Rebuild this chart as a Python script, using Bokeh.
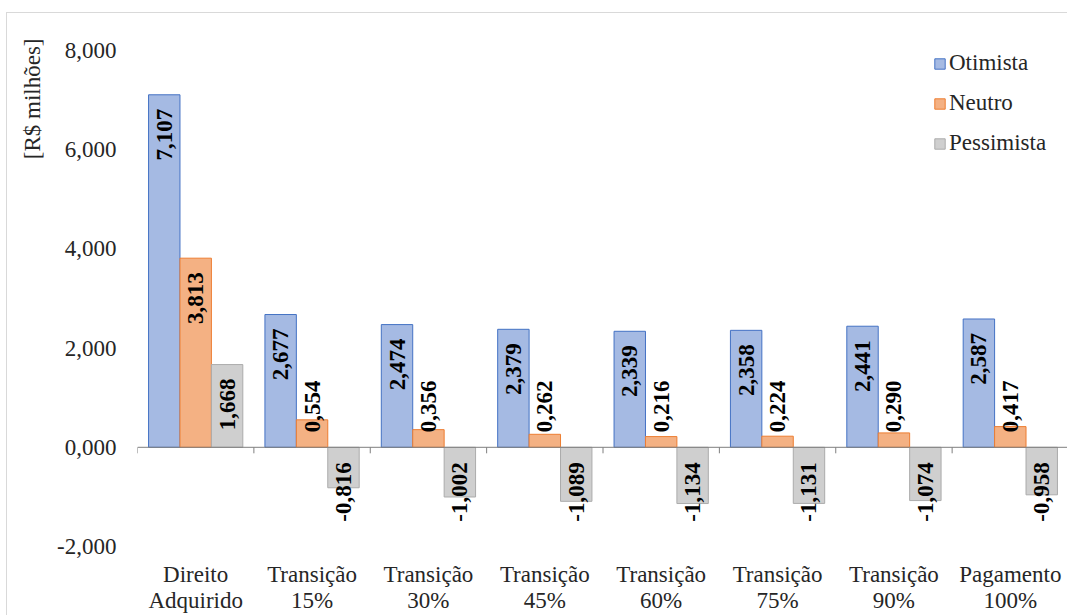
import math

from bokeh.core.properties import value
from bokeh.embed import file_html
from bokeh.models import (ColumnDataSource, FixedTicker, Legend, LegendItem,
                          LinearAxis, Range1d, Span, Title)
from bokeh.plotting import figure
from bokeh.resources import INLINE

# ---- data -------------------------------------------------------------
categories = ["Direito Adquirido", "Transição 15%", "Transição 30%",
              "Transição 45%", "Transição 60%", "Transição 75%",
              "Transição 90%", "Pagamento 100%"]
series_names = ["Otimista", "Neutro", "Pessimista"]
otimista = [7.107, 2.677, 2.474, 2.379, 2.339, 2.358, 2.441, 2.587]
neutro = [3.813, 0.554, 0.356, 0.262, 0.216, 0.224, 0.290, 0.417]
pessimista = [1.668, -0.816, -1.002, -1.089, -1.134, -1.131, -1.074, -0.958]
y_ticks = [-2, 0, 2, 4, 6, 8]
y_title = "[R$ milhões]"

# ---- style ------------------------------------------------------------
FONT = "Liberation Serif"
FILLS = ["#A5BAE3", "#F4B183", "#CFCFCF"]
LINES = ["#4472C4", "#ED7D31", "#ABABAB"]
OFFSETS = [-0.27, 0.0, 0.27]
BAR_W = 0.27
Y_MIN, Y_MAX = -2.0, 8.0
FRAME_W, FRAME_H = 931, 496
PX = FRAME_H / (Y_MAX - Y_MIN)   # pixels per data unit
TEXT = "#262626"

n_cat = len(categories)
centers = [i + 0.5 for i in range(n_cat)]       # category slot centres
bounds = [float(i) for i in range(n_cat)]        # left edge of each slot


def fmt(v):
    return f"{v:.3f}".replace(".", ",")


def label_layout(vals):
    """Position of each rotated value label: inside the bar end when it fits,
    otherwise just above the baseline; negative bars hang below the axis."""
    ys, aligns = [], []
    for v in vals:
        if v < 0:
            ys.append(-15 / PX)
            aligns.append("right")
        elif v * PX >= 80:
            ys.append(v - 14 / PX)
            aligns.append("right")
        else:
            ys.append(15 / PX)
            aligns.append("left")
    return ys, aligns


p = figure(
    x_range=Range1d(0, n_cat),
    y_range=Range1d(Y_MIN, Y_MAX),
    width=1061, height=602,
    frame_width=FRAME_W, frame_height=FRAME_H,
    margin=(12, 0, 0, 6),
    styles={"border-top": "1px solid #d9d9d9",
            "border-left": "1px solid #d9d9d9"},
    min_border_left=130, min_border_right=0,
    min_border_top=37, min_border_bottom=0,
    output_backend="svg", toolbar_location=None,
)
p.outline_line_color = None
p.xgrid.visible = False
p.ygrid.visible = False
p.background_fill_color = "white"
p.border_fill_color = "white"

renderers = []
for name, vals, off, fc, lc in zip(series_names, [otimista, neutro, pessimista],
                                   OFFSETS, FILLS, LINES):
    ys, aligns = label_layout(vals)
    xs = [c + off for c in centers]
    src = ColumnDataSource(dict(x=xs, val=vals, lab=[fmt(v) for v in vals],
                                ly=ys, align=aligns))
    r = p.vbar(x="x", top="val", bottom=0, width=BAR_W, source=src,
               fill_color=fc, line_color=lc, line_width=1)
    renderers.append(r)
    p.text(x="x", y="ly", text="lab", source=src, angle=math.pi / 2,
           text_align="align", text_baseline="middle",
           text_font=value(FONT), text_font_size="23px",
           text_font_style="bold", text_color="black")

# category axis line at zero with separating ticks
p.add_layout(Span(location=0, dimension="width", line_color="#7f7f7f",
                  line_width=1))
p.segment(x0=bounds, y0=0, x1=bounds, y1=-6 / PX,
          line_color="#7f7f7f", line_width=1)


def style_cat_axis(ax, lines, standoff):
    ax.ticker = FixedTicker(ticks=centers)
    ax.major_label_overrides = {c: t for c, t in zip(centers, lines)}
    ax.axis_line_color = None
    ax.major_tick_line_color = None
    ax.minor_tick_line_color = None
    ax.major_label_standoff = standoff
    ax.major_label_text_font = FONT
    ax.major_label_text_font_size = "23px"
    ax.major_label_text_color = TEXT


# two stacked axes carry the two-line category names
first_lines = [c.split(" ", 1)[0] for c in categories]
second_lines = [c.split(" ", 1)[1] for c in categories]
style_cat_axis(p.xaxis[0], first_lines, 9)
ax2 = LinearAxis()
style_cat_axis(ax2, second_lines, -8)
p.add_layout(ax2, "below")

# y axis: labels only
ya = p.yaxis[0]
ya.ticker = FixedTicker(ticks=y_ticks)
ya.major_label_overrides = {t: fmt(t) for t in y_ticks}
ya.axis_line_color = None
ya.major_tick_line_color = None
ya.minor_tick_line_color = None
ya.major_label_standoff = 15
ya.major_label_text_font = FONT
ya.major_label_text_font_size = "23px"
ya.major_label_text_color = TEXT

# unit title, placed near the top of the value axis
p.add_layout(Title(text=y_title, align="right", offset=-12, standoff=20,
                   text_font=FONT, text_font_size="23px",
                   text_font_style="normal", text_color=TEXT), "left")

legend = Legend(items=[LegendItem(label=n, renderers=[r])
                       for n, r in zip(series_names, renderers)],
                location=(796, 390), orientation="vertical",
                glyph_width=13, glyph_height=13, label_standoff=3,
                label_height=26, spacing=14, padding=0, margin=0,
                label_text_font=FONT, label_text_font_size="23px",
                label_text_color=TEXT,
                border_line_color=None, background_fill_alpha=0)
p.add_layout(legend)

open("out.html", "w").write(file_html(p, INLINE))
